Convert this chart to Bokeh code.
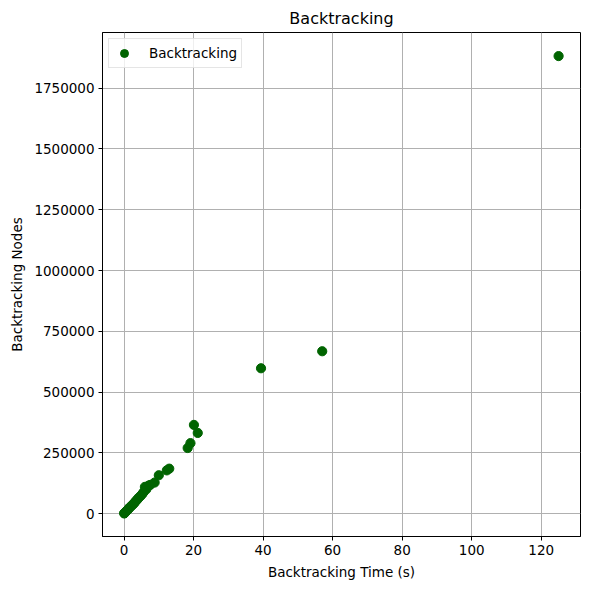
from bokeh.plotting import figure
from bokeh.models import Range1d, FixedTicker, BasicTickFormatter, Legend, LegendItem
from bokeh.embed import file_html
from bokeh.resources import INLINE

times = [0.05, 0.1, 0.2, 0.3, 0.5, 0.8, 1.0, 1.3, 1.6, 2.0, 2.3, 2.7, 3.0, 3.4, 3.8,
         4.2, 4.7, 5.2, 5.6, 6.0, 6.4, 7.0, 7.5, 8.8, 10.0, 12.3, 13.0, 18.3, 19.1,
         20.1, 21.2, 39.4, 57.0, 125.0]
nodes = [1000, 2000, 3500, 5000, 8000, 12000, 15000, 20000, 25000, 30000, 35000,
         40000, 45000, 52000, 58000, 65000, 72000, 80000, 88000, 110000, 100000,
         115000, 118000, 128000, 158000, 178000, 185000, 270000, 290000, 365000,
         332000, 598000, 668000, 1882000]
x_ticks = [0, 20, 40, 60, 80, 100, 120]
y_ticks = [0, 250000, 500000, 750000, 1000000, 1250000, 1500000, 1750000]

FONT = "DejaVu Sans"

p = figure(width=582, height=582, output_backend="svg", toolbar_location=None,
           x_range=Range1d(-6.2, 131.3), y_range=Range1d(-94000, 1979000),
           min_border_left=102, min_border_right=2, min_border_top=32, min_border_bottom=45,
           title="Backtracking")
p.title.align = "center"
p.title.text_font = FONT
p.title.text_font_size = "16px"
p.title.text_font_style = "normal"
p.title.text_color = "black"

r = p.scatter(times, nodes, size=9.2, color="#006400", marker="circle")

p.xaxis.ticker = FixedTicker(ticks=x_ticks)
p.yaxis.ticker = FixedTicker(ticks=y_ticks)
p.yaxis.formatter = BasicTickFormatter(use_scientific=False)
p.xaxis.axis_label = "Backtracking Time (s)"
p.yaxis.axis_label = "Backtracking Nodes"
for ax in (p.xaxis, p.yaxis):
    ax.axis_label_text_font = FONT
    ax.axis_label_text_font_size = "13.5px"
    ax.axis_label_text_font_style = "normal"
    ax.axis_label_text_color = "black"
    ax.major_label_text_font = FONT
    ax.major_label_text_font_size = "13.5px"
    ax.major_label_text_color = "black"
    ax.major_tick_out = 4
    ax.major_tick_in = 0
    ax.minor_tick_out = 0
    ax.minor_tick_in = 0
    ax.axis_line_color = "black"
    ax.major_tick_line_color = "black"
    ax.axis_label_standoff = 6
    ax.major_label_standoff = 4

p.grid.grid_line_color = "#b0b0b0"
p.grid.grid_line_width = 1
p.outline_line_color = "black"
p.outline_line_alpha = 1
p.outline_line_width = 1

legend = Legend(items=[LegendItem(label="Backtracking", renderers=[r])],
                location="top_left")
legend.label_text_font = FONT
legend.label_text_font_size = "13.5px"
legend.label_text_color = "black"
legend.border_line_color = "#cccccc"
legend.margin = 6
legend.padding = 4
legend.glyph_width = 22
legend.label_standoff = 14
legend.background_fill_alpha = 0.8
p.add_layout(legend)

open("out.html", "w").write(file_html(p, INLINE))
